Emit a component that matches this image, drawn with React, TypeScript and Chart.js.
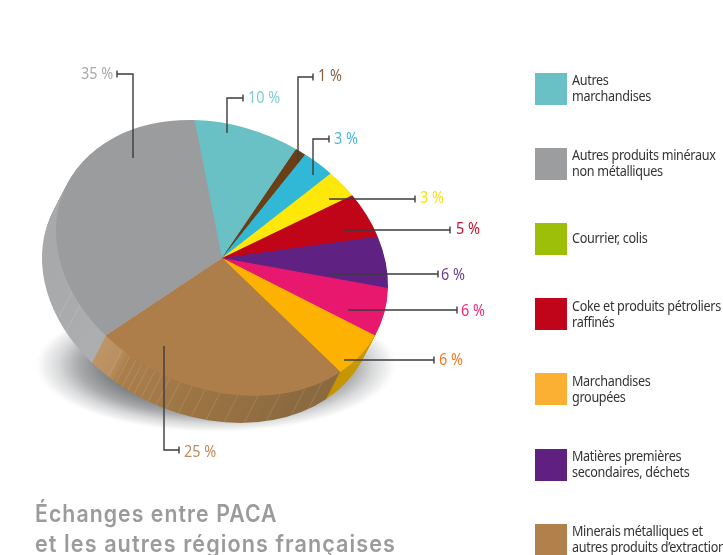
import React, { useEffect, useRef } from "react";
import { Chart, registerables } from "chart.js";

Chart.register(...registerables);

// ---- data ----
const sliceNames = ["Autres marchandises", "Non identifié a", "Non identifié b", "Non identifié c", "Coke et produits pétroliers raffinés", "Matières premières secondaires, déchets", "Non identifié d", "Marchandises groupées", "Minerais métalliques et autres produits d’extraction", "Autres produits minéraux non métalliques"];
const sliceShares = [10, 1, 3, 3, 5, 6, 6, 6, 25, 35];
const sliceColors = ["#69c1c6", "#6b3f16", "#30b8d6", "#fde80a", "#c00518", "#5f2282", "#e8186f", "#fdb100", "#ad7e4a", "#9b9c9e"];
const shareTextColors = ["#7ccdd2", "#8b5e3c", "#45b5e0", "#fde110", "#c8102e", "#6a3d8f", "#ee2a7b", "#f47a20", "#c08a55", "#a9a9a9"];
const legendLines = [
  ["Autres", "marchandises"],
  ["Autres produits minéraux", "non métalliques"],
  ["Courrier, colis"],
  ["Coke et produits pétroliers", "raffinés"],
  ["Marchandises", "groupées"],
  ["Matières premières", "secondaires, déchets"],
  ["Minerais métalliques et", "autres produits d’extraction"],
];
const legendColors = ["#69c1c6", "#9c9d9f", "#9dbf0a", "#c0051b", "#fbb034", "#5f207f", "#b0814b"];
const titleLines = ["Échanges entre PACA", "et les autres régions françaises"];

// ---- layout of the drawing (not data) ----
const CENTER = { x: 222, y: 258 };
const TILT = { a: 1.66, c: 0.27, d: 1.353 };
const DEPTH = { x: -14, y: 27, steps: 27 };
const LEGEND_TOPS = [73, 148, 223, 298, 373, 449, 524];
const LEGEND_BASE = [12, 12, 20, 13, 13, 12, 12];
// one callout per slice: polyline, and label anchor
const callouts = [
  { path: [[243, 98], [227, 98], [227, 133]], tx: 248, ty: 103 },
  { path: [[313, 77], [298, 77], [298, 162]], tx: 318, ty: 81 },
  { path: [[329, 139], [313, 139], [313, 175]], tx: 334, ty: 144 },
  { path: [[415, 199], [329, 199]], tx: 420, ty: 203 },
  { path: [[450, 230], [344, 230]], tx: 456, ty: 234 },
  { path: [[438, 274], [329, 274]], tx: 441, ty: 280 },
  { path: [[457, 310], [348, 310]], tx: 461, ty: 316 },
  { path: [[434, 360], [344, 360]], tx: 439, ty: 365 },
  { path: [[179, 450], [164, 450], [164, 346]], tx: 184, ty: 457 },
  { path: [[117, 74], [133, 74], [133, 158]], tx: 81, ty: 79 },
];
const facetXs = [72, 80, 122, 130, 136, 142, 148, 155, 162, 170, 180, 192, 205, 220, 238, 258, 280, 305, 322];
const sideStops: Record<number, [number, string][]> = {
  8: [[92, "#c09b6e"], [122, "#b98f60"], [130, "#ab7f4c"], [200, "#9c7444"], [300, "#8c6a40"], [340, "#8c6a40"]],
  9: [[40, "#a6a7a9"], [92, "#acadaf"], [110, "#adaeb0"]],
  7: [[320, "#c49000"], [375, "#c89a08"]],
  6: [[340, "#c49000"], [388, "#c89a08"]],
  5: [[340, "#5f2282"], [388, "#5f2282"]],
};

const squeezedText = (ctx: CanvasRenderingContext2D, text: string, x: number, y: number, sx: number) => {
  ctx.save();
  ctx.translate(x, y);
  ctx.scale(sx, 1);
  ctx.fillText(text, 0, 0);
  ctx.restore();
};

const pieDepthPlugin = {
  id: "pieDepth",
  beforeDatasetsDraw(chart: any) {
    const ctx: CanvasRenderingContext2D = chart.ctx;
    const arcs = chart.getDatasetMeta(0).data;
    const R = arcs[0].outerRadius;
    const cx = arcs[0].x;
    const cy = arcs[0].y;
    const place = (ox: number, oy: number) => {
      ctx.translate(CENTER.x + ox, CENTER.y + oy);
      ctx.transform((TILT.a * 100) / R, (TILT.c * 100) / R, 0, (TILT.d * 100) / R, 0, 0);
      ctx.translate(-cx, -cy);
    };
    // soft ground shadow
    ctx.save();
    ctx.translate(216, 365);
    ctx.scale(1, 68 / 183);
    const shade = ctx.createRadialGradient(0, 0, 40, 0, 0, 183);
    shade.addColorStop(0, "#5f6264");
    shade.addColorStop(0.5, "#7f8284");
    shade.addColorStop(0.68, "#a8aaac");
    shade.addColorStop(0.82, "#d8d9da");
    shade.addColorStop(0.93, "#f3f3f3");
    shade.addColorStop(1, "rgba(255,255,255,0)");
    ctx.fillStyle = shade;
    ctx.beginPath();
    ctx.arc(0, 0, 183, 0, Math.PI * 2);
    ctx.fill();
    ctx.restore();
    // extruded side
    for (let s = DEPTH.steps; s >= 1; s--) {
      const ox = (DEPTH.x * s) / DEPTH.steps;
      const oy = (DEPTH.y * s) / DEPTH.steps;
      ctx.save();
      place(ox, oy);
      arcs.forEach((arc: any, i: number) => {
        const stops = sideStops[i];
        const kept = arc.options;
        let fill: any = sliceColors[i];
        if (stops) {
          const toChart = (x: number) => cx + ((x - CENTER.x) / (TILT.a * 100)) * R;
          const x0 = stops[0][0];
          const x1 = stops[stops.length - 1][0];
          const g = ctx.createLinearGradient(toChart(x0), 0, toChart(x1), 0);
          stops.forEach(([x, c]) => g.addColorStop((x - x0) / (x1 - x0), c));
          fill = g;
        }
        const o = Object.create(kept);
        Object.defineProperty(o, "backgroundColor", { value: fill });
        arc.options = o;
        arc.draw(ctx);
        arc.options = kept;
      });
      ctx.restore();
    }
    // facet marks on the side
    ctx.save();
    ctx.strokeStyle = "rgba(255,255,255,0.16)";
    ctx.lineWidth = 0.8;
    facetXs.forEach((x) => {
      const u = (x - CENTER.x) / (TILT.a * 100);
      const y = CENTER.y + TILT.c * 100 * u + TILT.d * 100 * Math.sqrt(1 - u * u);
      ctx.beginPath();
      ctx.moveTo(x, y);
      ctx.lineTo(x + DEPTH.x, y + DEPTH.y);
      ctx.stroke();
    });
    ctx.restore();
    // top face
    ctx.save();
    place(0, 0);
  },
  afterDatasetsDraw(chart: any) {
    const ctx: CanvasRenderingContext2D = chart.ctx;
    ctx.restore();
    // callouts
    ctx.save();
    ctx.strokeStyle = "#3c3c3e";
    ctx.lineWidth = 1.4;
    ctx.textBaseline = "alphabetic";
    callouts.forEach((c, i) => {
      ctx.beginPath();
      c.path.forEach(([x, y], k) => (k ? ctx.lineTo(x, y) : ctx.moveTo(x, y)));
      const [ex, ey] = c.path[0];
      ctx.moveTo(ex, ey - 3.5);
      ctx.lineTo(ex, ey + 3.5);
      ctx.stroke();
      ctx.font = "400 16px 'Noto Sans'";
      ctx.fillStyle = shareTextColors[i];
      squeezedText(ctx, `${sliceShares[i]} %`, c.tx, c.ty, 0.9);
    });
    // legend
    (ctx as any).letterSpacing = "-0.35px";
    ctx.font = "14px 'Noto Sans'";
    legendLines.forEach((lines, i) => {
      ctx.fillStyle = legendColors[i];
      ctx.fillRect(535, LEGEND_TOPS[i], 32, 32);
      ctx.fillStyle = "#333336";
      lines.forEach((line, k) => squeezedText(ctx, line, 572, LEGEND_TOPS[i] + LEGEND_BASE[i] + k * 16, 0.9));
    });
    // title
    (ctx as any).letterSpacing = "1.2px";
    ctx.font = "600 24px Inter";
    ctx.fillStyle = "#9b9b9b";
    titleLines.forEach((line, k) => squeezedText(ctx, line, 35, 522 + k * 30, k ? 0.9 : 0.885));
    ctx.restore();
  },
};

export default function App() {
  const ref = useRef<HTMLCanvasElement>(null);
  useEffect(() => {
    const chart = new Chart(ref.current as HTMLCanvasElement, {
      type: "pie",
      data: {
        labels: sliceNames,
        datasets: [{ data: sliceShares, backgroundColor: sliceColors, borderWidth: 0, clip: false } as any],
      },
      options: {
        animation: false,
        responsive: false,
        rotation: -9.5,
        radius: 100,
        layout: { padding: 0 },
        plugins: { legend: { display: false }, tooltip: { enabled: false }, title: { display: false } },
      },
      plugins: [pieDepthPlugin],
    } as any);
    return () => chart.destroy();
  }, []);
  return (
    <div style={{ position: "absolute", left: 0, top: 0, width: 723, height: 555, overflow: "hidden", background: "#fff" }}>
      <canvas ref={ref} width={723} height={555} style={{ display: "block" }} />
    </div>
  );
}
